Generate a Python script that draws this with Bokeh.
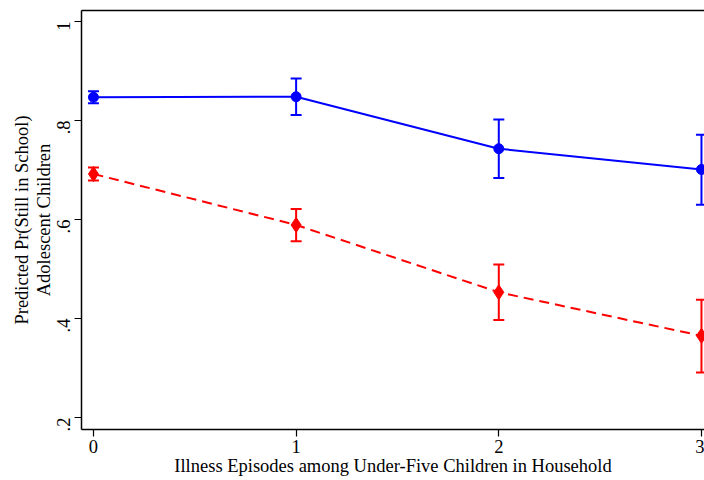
import math
from bokeh.plotting import figure
from bokeh.models import ColumnDataSource, Whisker, TeeHead, FixedTicker, LinearAxis, Range1d
from bokeh.embed import file_html
from bokeh.resources import INLINE

episodes = [0, 1, 2, 3]
blue_est = [0.847, 0.848, 0.743, 0.701]
blue_lo = [0.835, 0.811, 0.684, 0.630]
blue_hi = [0.859, 0.885, 0.802, 0.771]
red_est = [0.692, 0.589, 0.453, 0.365]
red_lo = [0.679, 0.556, 0.397, 0.291]
red_hi = [0.705, 0.621, 0.509, 0.438]
y_ticks = [0.2, 0.4, 0.6, 0.8, 1.0]
y_tick_labels = [".2", ".4", ".6", ".8", "1"]
x_ticks = [0, 1, 2, 3]

FONT = "Liberation Serif"
FS = "18.5px"

p = figure(width=704, height=480, output_backend="svg", toolbar_location=None,
           x_range=Range1d(-0.059, 3.015), y_range=Range1d(0.1758, 1.0222),
           min_border_left=81, min_border_right=0, min_border_top=10, min_border_bottom=51)
p.grid.visible = False
p.outline_line_color = None
p.background_fill_color = "white"
p.border_fill_color = "white"

bsrc = ColumnDataSource(dict(x=episodes, y=blue_est, lo=blue_lo, hi=blue_hi))
rsrc = ColumnDataSource(dict(x=episodes, y=red_est, lo=red_lo, hi=red_hi))

p.line("x", "y", source=bsrc, line_color="#0000ff", line_width=2)
p.line("x", "y", source=rsrc, line_color="#ff0000", line_width=2, line_dash="10 6")

for src, col in ((bsrc, "#0000ff"), (rsrc, "#ff0000")):
    w = Whisker(source=src, base="x", lower="lo", upper="hi", line_color=col, line_width=2,
                upper_head=TeeHead(size=11, line_color=col, line_width=2),
                lower_head=TeeHead(size=11, line_color=col, line_width=2))
    p.add_layout(w)

p.scatter("x", "y", source=bsrc, marker="circle", size=10, fill_color="#0000ff", line_color="#0000ff")
p.scatter("x", "y", source=rsrc, marker="diamond", size=15, fill_color="#ff0000", line_color="#ff0000")

for ax in (p.xaxis[0], p.yaxis[0]):
    ax.axis_line_color = "black"
    ax.axis_line_width = 1.5
    ax.major_tick_line_color = "black"
    ax.major_tick_line_width = 1.2
    ax.major_tick_out = 7
    ax.major_tick_in = 0
    ax.minor_tick_line_color = None
    ax.major_label_text_font = FONT
    ax.major_label_text_font_size = FS
    ax.major_label_text_color = "black"
    ax.axis_label_text_font = FONT
    ax.axis_label_text_font_size = FS
    ax.axis_label_text_font_style = "normal"
    ax.axis_label_text_color = "black"

p.xaxis.ticker = FixedTicker(ticks=x_ticks)
p.xaxis.axis_label = "Illness Episodes among Under-Five Children in Household"
p.xaxis.axis_label_standoff = 0
p.xaxis.major_label_standoff = 3

p.yaxis.ticker = FixedTicker(ticks=y_ticks)
p.yaxis.major_label_overrides = {t: l for t, l in zip(y_ticks, y_tick_labels)}
p.yaxis.major_label_orientation = math.pi / 2
p.yaxis.axis_label = "Predicted Pr(Still in School)\nAdolescent Children"
p.yaxis.axis_label_text_line_height = 1.1
p.yaxis.axis_label_standoff = -6
p.yaxis.major_label_standoff = 11

top = LinearAxis(ticker=FixedTicker(ticks=[]), major_label_text_font_size="0px",
                 axis_line_color="black", axis_line_width=1.5,
                 major_tick_line_color=None, minor_tick_line_color=None)
p.add_layout(top, "above")

open("out.html", "w").write(file_html(p, INLINE))
